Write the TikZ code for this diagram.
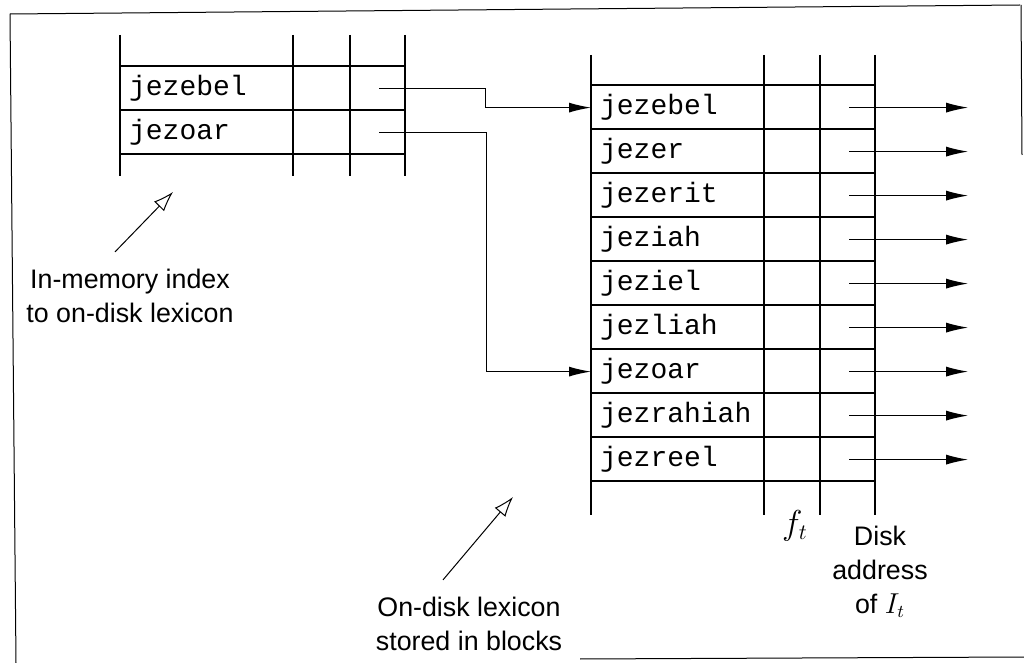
\documentclass[tikz,border=0pt]{standalone}
\usepackage{fontspec}
\setmainfont{Liberation Sans}
\setmonofont{Liberation Mono}
\usetikzlibrary{positioning,arrows.meta}

\begin{document}
\begin{tikzpicture}[x = .5pt, y = -.5pt, line width = .6pt,
    word/.style = {draw, anchor = north west, minimum width = 86.5pt, minimum height = 22pt,
        inner xsep = 4pt, inner ysep = 0pt, text width = 78pt, align = left,
        font = \ttfamily\fontsize{14}{16}\selectfont},
    ptr/.style = {-{Latex[length = 11pt, width = 5pt]}},
    note/.style = {-{Latex[open, length = 10pt, width = 7pt]}, line width = .5pt},
    lbl/.style = {align = center, font = \fontsize{13.4}{17}\selectfont}]

    \useasboundingbox (0, 0) rectangle (1024, 663);

    % frame of the scan
    \draw [line width = .5pt] (10, 14) -- (1020, 5);
    \draw [line width = .5pt] (10, 14) -- (16, 663);
    \draw [line width = .5pt] (1021, 5) -- (1022, 155);
    \draw [line width = .5pt] (580, 659) -- (1024, 657);

    % in-memory index
    \node [word] (m1) at (120, 66) {jezebel};
    \node [word] (m2) at (120, 110) {jezoar};
    \foreach \y in {66, 110, 154}
        \draw (120, \y) -- (405, \y);
    \foreach \x in {120, 293, 350, 405}
        \draw (\x, 35) -- (\x, 176);

    % on-disk lexicon
    \foreach \w [count = \i] in {jezebel, jezer, jezerit, jeziah, jeziel, jezliah, jezoar, jezrahiah, jezreel}
        \node [word] (d\i) at (591, {85 + 44*(\i - 1)}) {\w};
    \foreach \k in {0, ..., 9}
        \draw (591, 85 + 44*\k) -- (875, 85 + 44*\k);
    \foreach \x in {591, 764, 820, 875}
        \draw (\x, 55) -- (\x, 515);
    \foreach \i in {1, ..., 9}
        \draw [ptr] ([xshift = 42pt] d\i.east) -- ++(119, 0);

    \draw [ptr] ([xshift = 42.5pt] m1.east) -- ++(106, 0) |- (d1.west);
    \draw [ptr] ([xshift = 42.5pt] m2.east) -- ++(107, 0) |- (d7.west);

    % labels
    \node [lbl] (memtxt) at (130, 296) {In-memory index\\to on-disk lexicon};
    \node [lbl] (disktxt) at (469, 624) {On-disk lexicon\\stored in blocks};
    \node [lbl, font = \fontsize{16}{17}\selectfont] (ft) at (795, 526) {$f_t$};
    \node [lbl] (addr) at (880, 572) {Disk\\address\\of $I_t$};

    \coordinate (memtip) at (173, 192);
    \coordinate (disktip) at (513, 497);
    \draw [note] ([xshift = -7.5pt, yshift = 5pt] memtxt.north) -- (memtip);
    \draw [note] ([xshift = -13pt, yshift = 5pt] disktxt.north) -- (disktip);

\end{tikzpicture}
\end{document}
